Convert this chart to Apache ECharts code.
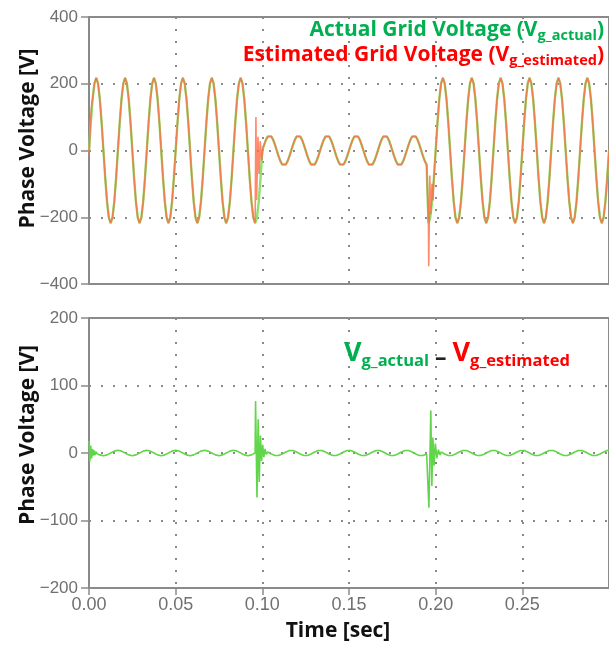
<!DOCTYPE html>
<html>
<head>
<meta charset="utf-8">
<script src="https://cdn.jsdelivr.net/npm/echarts@6/dist/echarts.min.js"></script>
<style>
  html, body { margin: 0; padding: 0; background: #fff; }
  #chart { width: 609px; height: 645px; }
</style>
</head>
<body>
<div id="chart"></div>
<script>
// Simulation output is stored at 16 samples per 60 Hz cycle.
const SAMPLE_STEP = 1 / 960; // s

// Axis ticks
const timeTicks = [0, 0.05, 0.10, 0.15, 0.20, 0.25, 0.30];
const voltageTicksTop = [-400, -200, 0, 200, 400];
const voltageTicksBottom = [-200, -100, 0, 100, 200];

// Grid phase voltage [V], normal operation, samples 0..96 (t = 0 .. 0.1 s)
const GRID_PRE_START = 0;
const gridPre = [
  0, 83, 154, 201, 218, 201, 154, 83, 0, -83, -154, -201, -218, -201, -154, -83,
  0, 83, 154, 201, 218, 201, 154, 83, 0, -83, -154, -201, -218, -201, -154, -83,
  0, 83, 154, 201, 218, 201, 154, 83, 0, -83, -154, -201, -218, -201, -154, -83,
  0, 83, 154, 201, 218, 201, 154, 83, 0, -83, -154, -201, -218, -201, -154, -83,
  0, 83, 154, 201, 218, 201, 154, 83, 0, -83, -154, -201, -218, -201, -154, -83,
  0, 83, 154, 201, 218, 201, 154, 83, 0, -83, -154, -201, -218, -201, -154, -83,
  0
];

// Voltage sag, samples 97..188
const GRID_SAG_START = 97;
const gridSag = [
      17, 32, 42, 45, 42, 32, 17, 0, -17, -32, -42, -45, -42, -32, -17,
  0, 17, 32, 42, 45, 42, 32, 17, 0, -17, -32, -42, -45, -42, -32, -17,
  0, 17, 32, 42, 45, 42, 32, 17, 0, -17, -32, -42, -45, -42, -32, -17,
  0, 17, 32, 42, 45, 42, 32, 17, 0, -17, -32, -42, -45, -42, -32, -17,
  0, 17, 32, 42, 45, 42, 32, 17, 0, -17, -32, -42, -45, -42, -32, -17,
  0, 17, 32, 42, 45, 42, 32, 17, 0, -17, -32, -42, -45
];

// Recovery to nominal voltage, samples 188..288 (t = 0.1958 .. 0.3 s)
const GRID_POST_START = 188;
const gridPost = [
                                                    -218, -201, -154, -83,
  0, 83, 154, 201, 218, 201, 154, 83, 0, -83, -154, -201, -218, -201, -154, -83,
  0, 83, 154, 201, 218, 201, 154, 83, 0, -83, -154, -201, -218, -201, -154, -83,
  0, 83, 154, 201, 218, 201, 154, 83, 0, -83, -154, -201, -218, -201, -154, -83,
  0, 83, 154, 201, 218, 201, 154, 83, 0, -83, -154, -201, -218, -201, -154, -83,
  0, 83, 154, 201, 218, 201, 154, 83, 0, -83, -154, -201, -218, -201, -154, -83,
  0, 83, 154, 201, 218, 201, 154, 83, 0, -83, -154, -201, -218, -201, -154, -83,
  0
];

// Estimator transients [t (s), V]; elsewhere the estimate tracks the grid voltage
const estStartBurst = [[0, -15], [0.0010, 100], [0.0015, 135]];
const estSagBurst = [
  [0.0963, 100], [0.0967, -148], [0.0975, 41], [0.0981, -70],
  [0.0988, 28], [0.0996, -30], [0.1004, 10]
];
const estRecoveryBurst = [
  [0.1960, -347], [0.1966, -75], [0.1972, -190], [0.1979, -100], [0.1985, -150]
];

// Estimation error ripple [V], samples 0..288
const errorRipple = [
  4, 3.7, 2.8, 1.5, 0, -1.5, -2.8, -3.7, -4, -3.7, -2.8, -1.5, 0, 1.5, 2.8, 3.7,
  4, 3.7, 2.8, 1.5, 0, -1.5, -2.8, -3.7, -4, -3.7, -2.8, -1.5, 0, 1.5, 2.8, 3.7,
  4, 3.7, 2.8, 1.5, 0, -1.5, -2.8, -3.7, -4, -3.7, -2.8, -1.5, 0, 1.5, 2.8, 3.7,
  4, 3.7, 2.8, 1.5, 0, -1.5, -2.8, -3.7, -4, -3.7, -2.8, -1.5, 0, 1.5, 2.8, 3.7,
  4, 3.7, 2.8, 1.5, 0, -1.5, -2.8, -3.7, -4, -3.7, -2.8, -1.5, 0, 1.5, 2.8, 3.7,
  4, 3.7, 2.8, 1.5, 0, -1.5, -2.8, -3.7, -4, -3.7, -2.8, -1.5, 0, 1.5, 2.8, 3.7,
  4, 3.7, 2.8, 1.5, 0, -1.5, -2.8, -3.7, -4, -3.7, -2.8, -1.5, 0, 1.5, 2.8, 3.7,
  4, 3.7, 2.8, 1.5, 0, -1.5, -2.8, -3.7, -4, -3.7, -2.8, -1.5, 0, 1.5, 2.8, 3.7,
  4, 3.7, 2.8, 1.5, 0, -1.5, -2.8, -3.7, -4, -3.7, -2.8, -1.5, 0, 1.5, 2.8, 3.7,
  4, 3.7, 2.8, 1.5, 0, -1.5, -2.8, -3.7, -4, -3.7, -2.8, -1.5, 0, 1.5, 2.8, 3.7,
  4, 3.7, 2.8, 1.5, 0, -1.5, -2.8, -3.7, -4, -3.7, -2.8, -1.5, 0, 1.5, 2.8, 3.7,
  4, 3.7, 2.8, 1.5, 0, -1.5, -2.8, -3.7, -4, -3.7, -2.8, -1.5, 0, 1.5, 2.8, 3.7,
  4, 3.7, 2.8, 1.5, 0, -1.5, -2.8, -3.7, -4, -3.7, -2.8, -1.5, 0, 1.5, 2.8, 3.7,
  4, 3.7, 2.8, 1.5, 0, -1.5, -2.8, -3.7, -4, -3.7, -2.8, -1.5, 0, 1.5, 2.8, 3.7,
  4, 3.7, 2.8, 1.5, 0, -1.5, -2.8, -3.7, -4, -3.7, -2.8, -1.5, 0, 1.5, 2.8, 3.7,
  4, 3.7, 2.8, 1.5, 0, -1.5, -2.8, -3.7, -4, -3.7, -2.8, -1.5, 0, 1.5, 2.8, 3.7,
  4, 3.7, 2.8, 1.5, 0, -1.5, -2.8, -3.7, -4, -3.7, -2.8, -1.5, 0, 1.5, 2.8, 3.7,
  4, 3.7, 2.8, 1.5, 0, -1.5, -2.8, -3.7, -4, -3.7, -2.8, -1.5, 0, 1.5, 2.8, 3.7,
  4
];

// Error transients at start-up, sag and recovery [t (s), V]
const errStartBurst = [
  [0, 18], [0.0005, -12], [0.0010, 11], [0.0015, -8], [0.0020, 6], [0.0025, -4],
  [0.0030, 4], [0.0035, -3], [0.0040, 2], [0.0046, -1], [0.0051, 1]
];
const errSagBurst = [
  [0.0959, 0], [0.0961, 77], [0.0969, -66], [0.0976, 50], [0.0982, -43], [0.0989, 26],
  [0.0996, -12], [0.1002, 12], [0.1009, -6], [0.1016, 6], [0.1023, -2]
];
const errRecoveryBurst = [
  [0.1961, -81], [0.1972, 63], [0.1978, -49], [0.1984, 23], [0.1991, -19],
  [0.1998, 14], [0.2007, -8], [0.2016, 5], [0.2025, -3]
];

// ---- helpers ----
function sampled(values, startIndex) {
  return values.map((v, i) => [(startIndex + i) * SAMPLE_STEP, v]);
}
// Replace the samples inside a burst's time window by the burst points
function overlay(base, burst) {
  const t0 = burst[0][0], t1 = burst[burst.length - 1][0];
  const out = [];
  let inserted = false;
  for (const p of base) {
    if (p[0] >= t0 && p[0] <= t1) {
      if (!inserted) { out.push(...burst); inserted = true; }
      continue;
    }
    if (!inserted && p[0] > t1) { out.push(...burst); inserted = true; }
    out.push(p);
  }
  if (!inserted) out.push(...burst);
  return out;
}

const actualPts = [].concat(
  sampled(gridPre, GRID_PRE_START),
  sampled(gridSag, GRID_SAG_START),
  sampled(gridPost, GRID_POST_START)
);
let estimatedPts = overlay(actualPts, estStartBurst);
estimatedPts = overlay(estimatedPts, estSagBurst);
estimatedPts = overlay(estimatedPts, estRecoveryBurst);

let errorPts = sampled(errorRipple, 0);
errorPts = overlay(errorPts, errStartBurst);
errorPts = overlay(errorPts, errSagBurst);
errorPts = overlay(errorPts, errRecoveryBurst);

// ---- styles ----
const AXIS = '#8a8a8a';
const TICK_LABEL = '#707070';
const DOT = { type: [2, 10], color: '#8a8a8a', width: 2 };
const NAME_FONT = 'Open Sans';
const GREEN_TEXT = '#00b050';
const RED_TEXT = '#ff0000';
const fmtV = v => (v < 0 ? '\u2212' : '') + Math.abs(v);

function xAxisCfg(gridIndex, withLabels) {
  return {
    type: 'value', gridIndex,
    min: timeTicks[0], max: timeTicks[timeTicks.length - 1], interval: 0.05,
    axisLine: { show: true, onZero: false, lineStyle: { color: AXIS, width: 2 } },
    axisTick: { show: withLabels, length: 7, lineStyle: { color: AXIS, width: 1.5 } },
    axisLabel: {
      show: withLabels, fontSize: 18, color: TICK_LABEL, fontFamily: 'Liberation Sans',
      margin: 8, showMaxLabel: false, formatter: v => v.toFixed(2)
    },
    splitLine: { show: true, lineStyle: DOT }
  };
}
function yAxisCfg(gridIndex, ticks, shiftUp) {
  return {
    type: 'value', gridIndex,
    min: ticks[0], max: ticks[ticks.length - 1], interval: ticks[1] - ticks[0],
    axisLine: { show: true, onZero: false, lineStyle: { color: AXIS, width: 2 } },
    axisTick: { show: true, length: 8, lineStyle: { color: AXIS, width: 1.5 } },
    axisLabel: { fontSize: 17, color: TICK_LABEL, fontFamily: 'Liberation Sans', margin: 11, formatter: fmtV },
    splitLine: { show: true, lineStyle: DOT },
    name: 'Phase Voltage [V]',
    nameLocation: 'middle',
    nameGap: 50,
    nameMoveOverlap: false,
    nameTextStyle: {
      fontFamily: NAME_FONT, fontWeight: 'bold', fontSize: 21, color: '#111',
      padding: [0, 0, 0, shiftUp * 2]
    }
  };
}

const chart = echarts.init(document.getElementById('chart'), null, { renderer: 'canvas' });

const xBottom = xAxisCfg(1, true);
xBottom.name = 'Time [sec]';
xBottom.nameLocation = 'middle';
xBottom.nameGap = 33;
xBottom.nameTextStyle = {
  fontFamily: NAME_FONT, fontWeight: 'bold', fontSize: 21, color: '#111', padding: [0, 22, 0, 0]
};

chart.setOption({
  animation: false,
  backgroundColor: '#fff',
  grid: [
    { left: 89, right: -10, top: 17, height: 267, show: true, borderColor: AXIS, borderWidth: 2 },
    { left: 89, right: -10, top: 318, height: 270, show: true, borderColor: AXIS, borderWidth: 2 }
  ],
  xAxis: [xAxisCfg(0, false), xBottom],
  yAxis: [yAxisCfg(0, voltageTicksTop, 12), yAxisCfg(1, voltageTicksBottom, 18)],
  series: [
    {
      name: 'Actual Grid Voltage', type: 'line', xAxisIndex: 0, yAxisIndex: 0,
      data: actualPts, showSymbol: false, z: 2,
      lineStyle: { color: '#8fe06a', width: 2.4 }
    },
    {
      name: 'Estimated Grid Voltage', type: 'line', xAxisIndex: 0, yAxisIndex: 0,
      data: estimatedPts, showSymbol: false, z: 3,
      lineStyle: { color: '#ff6a48', width: 1.6, opacity: 0.8 }
    },
    {
      name: 'Estimation Error', type: 'line', xAxisIndex: 1, yAxisIndex: 1,
      data: errorPts, showSymbol: false, z: 2,
      lineStyle: { color: '#62d64a', width: 1.6 }
    }
  ],
  graphic: [
    {
      type: 'text', right: 5, top: 20, z: 10,
      style: {
        text: '{a|Actual Grid Voltage (V}{s|g_actual}{a|)}',
        rich: {
          a: { fontFamily: NAME_FONT, fontWeight: 'bold', fontSize: 21, fill: GREEN_TEXT, lineHeight: 25 },
          s: { fontFamily: NAME_FONT, fontWeight: 'bold', fontSize: 14.5, fill: GREEN_TEXT, lineHeight: 16, verticalAlign: 'bottom' }
        }
      }
    },
    {
      type: 'text', right: 5, top: 45, z: 10,
      style: {
        text: '{a|Estimated Grid Voltage (V}{s|g_estimated}{a|)}',
        rich: {
          a: { fontFamily: NAME_FONT, fontWeight: 'bold', fontSize: 21, fill: RED_TEXT, lineHeight: 25 },
          s: { fontFamily: NAME_FONT, fontWeight: 'bold', fontSize: 14.5, fill: RED_TEXT, lineHeight: 16, verticalAlign: 'bottom' }
        }
      }
    },
    {
      type: 'text', left: 344, top: 340, z: 10,
      style: {
        text: '{gv|V}{gs|g_actual}{d| \u2013 }{rv|V}{rs|g_estimated}',
        rich: {
          gv: { fontFamily: NAME_FONT, fontWeight: 'bold', fontSize: 27, fill: GREEN_TEXT, lineHeight: 32 },
          gs: { fontFamily: NAME_FONT, fontWeight: 'bold', fontSize: 16.5, fill: GREEN_TEXT, lineHeight: 20, verticalAlign: 'bottom' },
          d: { fontFamily: NAME_FONT, fontWeight: 'bold', fontSize: 23, fill: '#222', lineHeight: 28, verticalAlign: 'bottom' },
          rv: { fontFamily: NAME_FONT, fontWeight: 'bold', fontSize: 27, fill: RED_TEXT, lineHeight: 32 },
          rs: { fontFamily: NAME_FONT, fontWeight: 'bold', fontSize: 16.5, fill: RED_TEXT, lineHeight: 20, verticalAlign: 'bottom' }
        }
      }
    }
  ]
});
</script>
</body>
</html>
